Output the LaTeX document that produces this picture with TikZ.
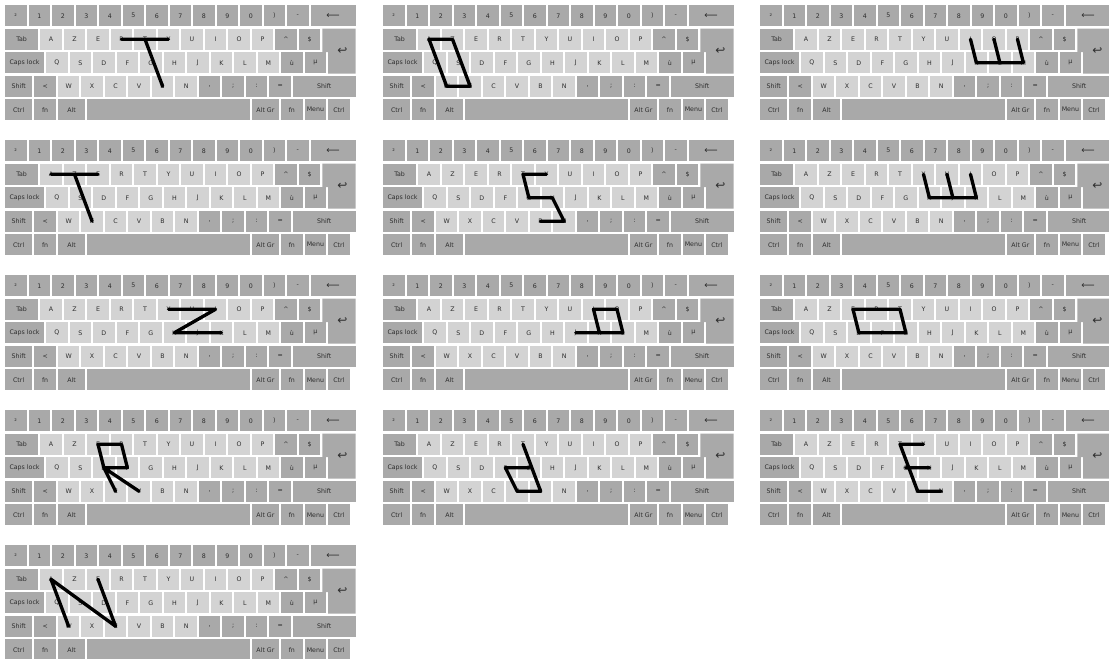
\documentclass[tikz,border=0pt]{standalone}
\usepackage{fontspec}
\newfontfamily\keyfont{DejaVu Sans}
\usepackage{xcolor}
\usepackage{tikz}

\definecolor{keydark}{RGB}{169,169,169}
\definecolor{keylight}{RGB}{211,211,211}
\definecolor{keyink}{RGB}{45,45,45}

\tikzset{
  kbkey/.style={rectangle, inner sep=0pt, outer sep=0pt,
    minimum width={(#1*23.5-2)*0.75pt}, minimum height=16.1pt,
    text=keyink, font=\keyfont\fontsize{4.7}{5}\selectfont},
  darkkey/.style={kbkey=#1, fill=keydark},
  lightkey/.style={kbkey=#1, fill=keylight},
  gesture/.style={draw=black, line width=2.5pt, line cap=round, line join=round},
}

% one AZERTY keyboard, #1 name, (#2,#3) top left corner in px
\newcommand{\keyboard}[3]{%
  %Row 1
  \node[darkkey=1] (#1-sup) at ({#2+0.5*23.5},{#3+0.5*23.5}) {²};
  \foreach \l [count=\i] in {1,2,3,4,5,6,7,8,9,0,),-}
    \node[darkkey=1] (#1-n\i) at ({#2+(\i+0.5)*23.5},{#3+0.5*23.5}) {\l};
  \node[darkkey=2, font=\keyfont\fontsize{7}{7}\selectfont] (#1-back) at ({#2+14*23.5},{#3+0.5*23.5}) {⟵};
  %Row 2
  \node[darkkey=1.5] (#1-tab) at ({#2+0.75*23.5},{#3+1.5*23.5}) {Tab};
  \foreach \l [count=\i from 0] in {A,Z,E,R,T,Y,U,I,O,P}
    \node[lightkey=1] (#1-\l) at ({#2+(2+\i)*23.5},{#3+1.5*23.5}) {\l};
  \node[darkkey=1] (#1-hat) at ({#2+12*23.5},{#3+1.5*23.5}) {\textasciicircum};
  \node[darkkey=1] (#1-dollar) at ({#2+13*23.5},{#3+1.5*23.5}) {\$};
  %Shape: Enter
  \fill[keydark] ({#2+13.5*23.5+1},{#3+23.5+1}) -| ({#2+15*23.5-1},{#3+3*23.5-1})
    -| ({#2+13.75*23.5+1},{#3+2*23.5+1}) -| cycle;
  \node[kbkey=1.25, font=\keyfont\fontsize{9}{9}\selectfont] (#1-enter) at ({#2+14.4*23.5},{#3+2*23.5}) {↩};
  %Row 3
  \node[darkkey=1.75] (#1-caps) at ({#2+0.875*23.5},{#3+2.5*23.5}) {Caps lock};
  \foreach \l [count=\i from 0] in {Q,S,D,F,G,H,J,K,L,M}
    \node[lightkey=1] (#1-\l) at ({#2+(2.25+\i)*23.5},{#3+2.5*23.5}) {\l};
  \node[darkkey=1] (#1-ugrave) at ({#2+12.25*23.5},{#3+2.5*23.5}) {ù};
  \node[darkkey=1] (#1-mu) at ({#2+13.25*23.5},{#3+2.5*23.5}) {µ};
  %Row 4
  \node[darkkey=1.25] (#1-lshift) at ({#2+0.625*23.5},{#3+3.5*23.5}) {Shift};
  \node[darkkey=1] (#1-less) at ({#2+1.75*23.5},{#3+3.5*23.5}) {<};
  \foreach \l [count=\i from 0] in {W,X,C,V,B,N}
    \node[lightkey=1] (#1-\l) at ({#2+(2.75+\i)*23.5},{#3+3.5*23.5}) {\l};
  \foreach \l [count=\i from 0] in {{,},;,:,=}
    \node[darkkey=1] (#1-p\i) at ({#2+(8.75+\i)*23.5},{#3+3.5*23.5}) {\l};
  \node[darkkey=2.75] (#1-rshift) at ({#2+13.625*23.5},{#3+3.5*23.5}) {Shift};
  %Row 5
  \node[darkkey=1.25] (#1-lctrl) at ({#2+0.625*23.5},{#3+4.5*23.5}) {Ctrl};
  \node[darkkey=1] (#1-lfn) at ({#2+1.75*23.5},{#3+4.5*23.5}) {fn};
  \node[darkkey=1.25] (#1-alt) at ({#2+2.875*23.5},{#3+4.5*23.5}) {Alt};
  \node[darkkey=7] (#1-space) at ({#2+7*23.5},{#3+4.5*23.5}) {};
  \node[darkkey=1.25] (#1-altgr) at ({#2+11.125*23.5},{#3+4.5*23.5}) {Alt Gr};
  \node[darkkey=1] (#1-rfn) at ({#2+12.25*23.5},{#3+4.5*23.5}) {fn};
  \node[darkkey=1] (#1-menu) at ({#2+13.25*23.5},{#3+4.5*23.5}) {Menu};
  \node[darkkey=1] (#1-rctrl) at ({#2+14.25*23.5},{#3+4.5*23.5}) {Ctrl};
}

\begin{document}
\begin{tikzpicture}[x=0.75pt,y=0.75pt,yscale=-1,xscale=1]
\useasboundingbox (0,0) rectangle (1109,658);

%Keyboard: T
\keyboard{kb1}{4}{4}
\draw[gesture] (kb1-R.center) -- (kb1-Y.center) (kb1-T.center) -- (kb1-B.center);

%Keyboard: parallelogram
\keyboard{kb2}{382}{4}
\draw[gesture] (kb2-A.center) -- (kb2-Z.center) -- (kb2-X.center) -- (kb2-W.center) -- cycle;

%Keyboard: three stems
\keyboard{kb3}{759}{4}
\draw[gesture] (kb3-I.center) -- (kb3-K.center) -- (kb3-M.center) (kb3-O.center) -- (kb3-L.center) (kb3-P.center) -- (kb3-M.center);

%Keyboard: T
\keyboard{kb4}{4}{139}
\draw[gesture] (kb4-A.center) -- (kb4-E.center) (kb4-Z.center) -- (kb4-X.center);

%Keyboard: S
\keyboard{kb5}{382}{139}
\draw[gesture] (kb5-Y.center) -- (kb5-T.center) -- (kb5-G.center) -- (kb5-H.center) -- (kb5-N.center) -- (kb5-B.center);

%Keyboard: three stems
\keyboard{kb6}{759}{139}
\draw[gesture] (kb6-Y.center) -- (kb6-H.center) -- (kb6-K.center) -- (kb6-I.center) (kb6-U.center) -- (kb6-J.center);

%Keyboard: Z
\keyboard{kb7}{4}{274}
\draw[gesture] (kb7-Y.center) -- (kb7-I.center) -- (kb7-H.center) -- (kb7-K.center);

%Keyboard: loop with tail
\keyboard{kb8}{382}{274}
\draw[gesture] (kb8-J.center) -- (kb8-L.center) -- (kb8-O.center) -- (kb8-I.center) -- (kb8-K.center);

%Keyboard: parallelogram
\keyboard{kb9}{759}{274}
\draw[gesture] (kb9-E.center) -- (kb9-T.center) -- (kb9-G.center) -- (kb9-D.center) -- cycle;

%Keyboard: R
\keyboard{kb10}{4}{409}
\draw[gesture] (kb10-C.center) -- (kb10-D.center) -- (kb10-E.center) -- (kb10-R.center) -- (kb10-F.center) -- (kb10-D.center) -- (kb10-V.center);

%Keyboard: d
\keyboard{kb11}{382}{409}
\draw[gesture] (kb11-T.center) -- (kb11-B.center) -- (kb11-V.center) -- (kb11-F.center) -- (kb11-G.center);

%Keyboard: E
\keyboard{kb12}{759}{409}
\draw[gesture] (kb12-Y.center) -- (kb12-T.center) -- (kb12-B.center) -- (kb12-N.center) (kb12-G.center) -- (kb12-H.center);

%Keyboard: N
\keyboard{kb13}{4}{544}
\draw[gesture] (kb13-W.center) -- (kb13-A.center) -- (kb13-C.center) -- (kb13-E.center);

\end{tikzpicture}
\end{document}
